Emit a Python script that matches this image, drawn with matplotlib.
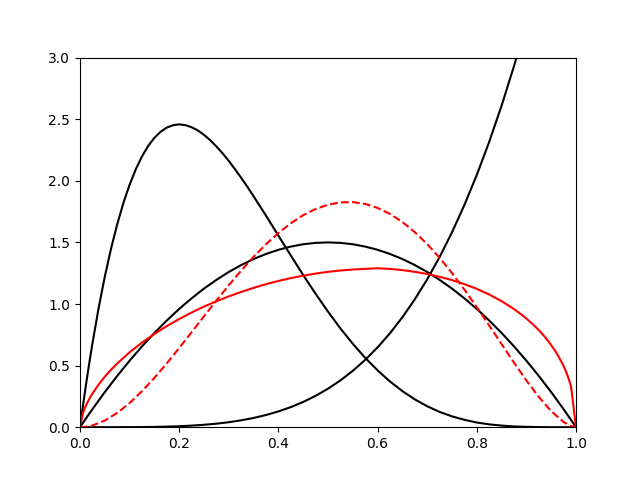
import matplotlib
matplotlib.use("Agg")
import matplotlib.pyplot as plt

# x 座標 (共通)
x = [0.0, 0.0125, 0.025, 0.05, 0.075, 0.1, 0.125, 0.15, 0.175, 0.2, 0.225,
     0.25, 0.275, 0.3, 0.325, 0.35, 0.375, 0.4, 0.425, 0.45, 0.475, 0.5,
     0.525, 0.55, 0.575, 0.6, 0.625, 0.65, 0.675, 0.7, 0.725, 0.75, 0.775,
     0.8, 0.825, 0.85, 0.875, 0.9, 0.925, 0.95, 0.975, 0.99, 1.0]

# 左寄りの山 (細かい x)
x_left = [0.0, 0.00625, 0.0125, 0.01875, 0.025, 0.0375, 0.05, 0.0625, 0.075, 0.0875,
          0.1, 0.1125, 0.125, 0.1375, 0.15, 0.1625, 0.175, 0.1875, 0.2, 0.2125,
          0.225, 0.2375, 0.25, 0.2625, 0.275, 0.2875, 0.3, 0.3125, 0.325, 0.3375,
          0.35, 0.375, 0.4, 0.425, 0.45, 0.475, 0.5, 0.525, 0.55, 0.575, 0.6,
          0.625, 0.65, 0.675, 0.7, 0.725, 0.75, 0.775, 0.8, 0.825, 0.85, 0.875,
          0.9, 0.925, 0.95, 0.975, 1.0]
skew_left = [0.0, 0.183, 0.357, 0.522, 0.678, 0.966, 1.222, 1.448, 1.647, 1.820,
             1.968, 2.094, 2.198, 2.283, 2.349, 2.398, 2.432, 2.451, 2.458, 2.452,
             2.435, 2.409, 2.373, 2.330, 2.279, 2.223, 2.161, 2.094, 2.024, 1.951,
             1.874, 1.717, 1.555, 1.394, 1.235, 1.083, 0.938, 0.802, 0.677, 0.563, 0.461,
             0.371, 0.293, 0.226, 0.170, 0.124, 0.088, 0.060, 0.038, 0.023, 0.013, 0.006,
             0.003, 0.001, 0.0, 0.0, 0.0]

# 黒の曲線
symmetric = [0.0, 0.074, 0.146, 0.285, 0.416, 0.54, 0.656, 0.765, 0.866, 0.96, 1.046,
             1.125, 1.196, 1.26, 1.316, 1.365, 1.406, 1.44, 1.466, 1.485, 1.496, 1.5,
             1.496, 1.485, 1.466, 1.44, 1.406, 1.365, 1.316, 1.26, 1.196, 1.125, 1.046,
             0.96, 0.866, 0.765, 0.656, 0.54, 0.416, 0.285, 0.146, 0.059, 0.0]
rising = [0.0, 0.0, 0.0, 0.0, 0.0002, 0.0005, 0.0012, 0.0025, 0.0047, 0.008, 0.0128,
          0.0195, 0.0286, 0.0405, 0.0558, 0.075, 0.0989, 0.128, 0.1631, 0.205, 0.2545, 0.3125,
          0.3798, 0.4575, 0.5466, 0.648, 0.7629, 0.8925, 1.038, 1.2005, 1.3814, 1.582, 1.8038,
          2.048, 2.3163, 2.61, 2.9309, 3.2805, 3.6605, 4.0725, 4.5184, 4.803, 5.0]

# 赤の破線
red_dashed = [0.0, 0.004, 0.014, 0.054, 0.116, 0.196, 0.292, 0.401, 0.518, 0.643, 0.771,
              0.900, 1.028, 1.152, 1.271, 1.383, 1.485, 1.576, 1.655, 1.721, 1.771, 1.806,
              1.825, 1.827, 1.812, 1.780, 1.731, 1.665, 1.583, 1.486, 1.375, 1.251, 1.117,
              0.974, 0.825, 0.674, 0.524, 0.379, 0.246, 0.130, 0.042, 0.009, 0.0]

# 赤の実線 (両端を細かく)
x_solid = [0.0, 0.00625, 0.0125, 0.01875, 0.025, 0.0375, 0.05, 0.0625, 0.075, 0.1,
           0.125, 0.15, 0.175, 0.2, 0.225, 0.25, 0.275, 0.3, 0.325, 0.35, 0.375,
           0.4, 0.425, 0.45, 0.475, 0.5, 0.525, 0.55, 0.575, 0.6, 0.625, 0.65,
           0.675, 0.7, 0.725, 0.75, 0.775, 0.8, 0.825, 0.85, 0.875, 0.8875, 0.9,
           0.9125, 0.925, 0.9375, 0.95, 0.9625, 0.975, 0.98, 0.985, 0.99, 1.0]
red_solid = [0.0, 0.120, 0.181, 0.230, 0.273, 0.346, 0.410, 0.466, 0.517, 0.608,
             0.687, 0.757, 0.821, 0.878, 0.931, 0.979, 1.022, 1.062, 1.098, 1.131, 1.161,
             1.187, 1.210, 1.230, 1.247, 1.261, 1.272, 1.280, 1.285, 1.290, 1.285, 1.275,
             1.261, 1.244, 1.221, 1.194, 1.161, 1.123, 1.077, 1.023, 0.959, 0.922, 0.882,
             0.837, 0.788, 0.732, 0.667, 0.591, 0.496, 0.450, 0.396, 0.331, 0.0]

fig, ax = plt.subplots(figsize=(6.4, 4.8), dpi=100)

ax.plot(x_left, skew_left, color="k")
ax.plot(x, symmetric, color="k")
ax.plot(x, rising, color="k")
ax.plot(x_solid, red_solid, color="r")
ax.plot(x, red_dashed, color="r", linestyle="--")

ax.set_xlim(0, 1)
ax.set_ylim(0, 3)

fig.savefig("out.png")
